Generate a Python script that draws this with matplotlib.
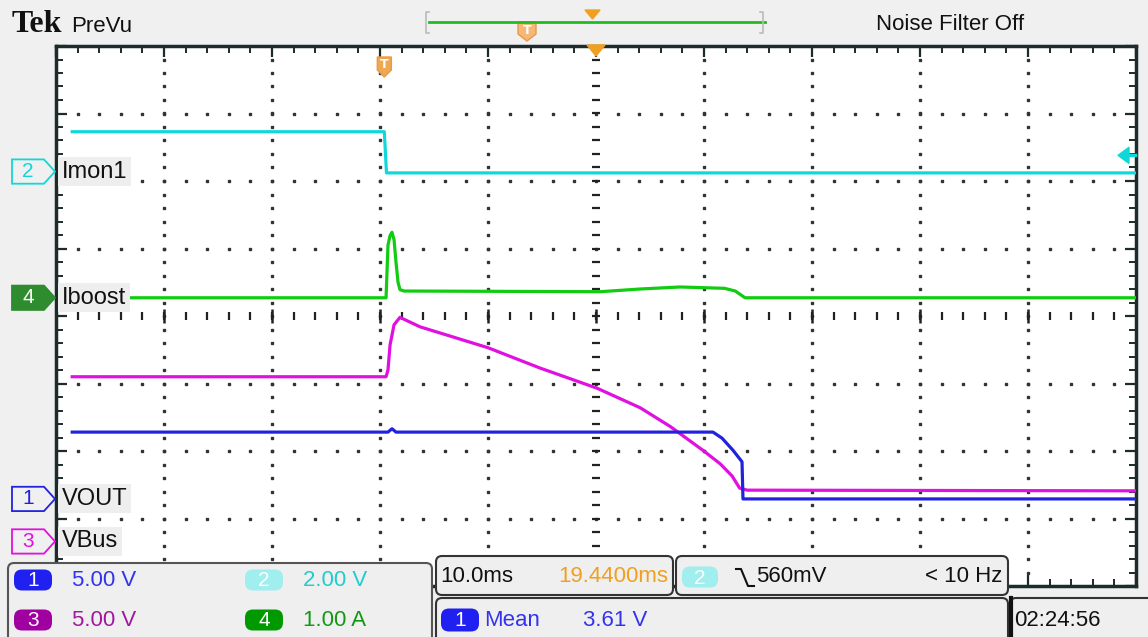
import numpy as np
import matplotlib.pyplot as plt
from matplotlib import font_manager
from matplotlib.patches import Polygon, FancyBboxPatch
from matplotlib.transforms import blended_transform_factory

# traces, in graticule divisions
# x: 0..10 div (10.0 ms/div), y: -4..4 div from the centre line
imon_x = [0.15, 3.04, 3.06, 10.0]
imon_y = [2.73, 2.73, 2.12, 2.12]

iboost_x = [0.15, 3.056, 3.074, 3.093, 3.111, 3.13, 3.148, 3.167, 3.185, 3.222,
            5.04, 5.41, 5.78, 6.19, 6.29, 6.38, 10.0]
iboost_y = [0.27, 0.27, 1.05, 1.19, 1.24, 1.13, 0.80, 0.50, 0.39, 0.37,
            0.36, 0.40, 0.43, 0.41, 0.37, 0.27, 0.27]

vbus_x = [0.15, 3.056, 3.074, 3.093, 3.13, 3.185, 3.37, 4.0, 4.48, 5.01, 5.41,
          5.69, 5.99, 6.15, 6.26, 6.33, 6.40, 10.0]
vbus_y = [-0.90, -0.90, -0.80, -0.43, -0.13, -0.02, -0.16, -0.47, -0.77, -1.07,
          -1.36, -1.64, -1.99, -2.19, -2.37, -2.55, -2.58, -2.59]

vout_x = [0.15, 3.074, 3.111, 3.148, 6.083, 6.167, 6.269, 6.352, 6.361, 10.0]
vout_y = [-1.72, -1.72, -1.67, -1.72, -1.72, -1.81, -1.99, -2.16, -2.71, -2.71]

# channel settings
ch_num = ['1', '2', '3', '4']
ch_name = ['VOUT', 'Imon1', 'VBus', 'Iboost']
ch_scale = ['5.00 V', '2.00 V', '5.00 V', '1.00 A']
ch_ground = [-2.71, 2.14, -3.34, 0.27]
ch_trace = ['#2222DD', '#11D8D8', '#E010E0', '#11CC11']
ch_text = ['#3333EE', '#22CCCC', '#A018A0', '#129912']
ch_pill = ['#2020F0', '#A0EEEE', '#A000A0', '#009A00']

timebase = '10.0ms'
trig_delay = '19.4400ms'
trig_level = '560mV'
trig_freq = '< 10 Hz'
meas_value = '3.61 V'
clock = '02:24:56'
trig_pos = 3.04
cyan_trig = 2.38

names = {f.name for f in font_manager.fontManager.ttflist}
narrow = 'Liberation Sans Narrow' if 'Liberation Sans Narrow' in names else 'Liberation Sans'
serif = 'Liberation Serif' if 'Liberation Serif' in names else 'DejaVu Serif'

W, H = 1148, 637
fig = plt.figure(figsize=(W / 100, H / 100), dpi=100, facecolor='#F0F0F0')
ax = fig.add_axes([56 / W, (H - 586) / H, 1080 / W, 540 / H])
ax.set_facecolor('white')
ax.set_xlim(0, 10)
ax.set_ylim(-4, 4)

dark = '#1E2B2B'
for s in ax.spines.values():
    s.set_color(dark)
    s.set_linewidth(2.5)
ax.set_xticks(np.arange(0, 10.01, 1))
ax.set_xticks(np.arange(0, 10.01, 0.2), minor=True)
ax.set_yticks(np.arange(-4, 4.01, 1))
ax.set_yticks(np.arange(-4, 4.01, 0.2), minor=True)
ax.tick_params(which='both', direction='in', top=True, right=True, color=dark,
               labelbottom=False, labelleft=False)
ax.tick_params(which='major', length=8, width=1.6)
ax.tick_params(which='minor', length=5, width=1.4)

# dotted graticule
xm = np.arange(0.2, 9.9, 0.2)
ym = np.arange(-3.8, 3.9, 0.2)
for gx in [1, 2, 3, 4, 6, 7, 8, 9]:
    ax.plot(np.full(len(ym), gx), ym, ls='none', marker='s', ms=1.5, color='#333333')
for gy in [-3, -2, -1, 1, 2, 3]:
    ax.plot(xm, np.full(len(xm), gy), ls='none', marker='s', ms=1.5, color='#333333')
# centre cross with tick dashes
ax.plot(xm, np.zeros(len(xm)), ls='none', marker='|', ms=6, mew=1.6, color='#222222')
ax.plot(np.arange(1, 10), np.zeros(9), ls='none', marker='|', ms=10, mew=1.8, color='#222222')
ax.plot(np.full(len(ym), 5), ym, ls='none', marker='_', ms=6, mew=1.6, color='#222222')

# traces
ax.plot(imon_x, imon_y, color=ch_trace[1], lw=2.3, zorder=4)
ax.plot(iboost_x, iboost_y, color=ch_trace[3], lw=2.3, zorder=4)
ax.plot(vbus_x, vbus_y, color=ch_trace[2], lw=2.3, zorder=4)
ax.plot(vout_x, vout_y, color=ch_trace[0], lw=2.3, zorder=5)

# overlay in screen pixels for the scope furniture
ov = fig.add_axes([0, 0, 1, 1])
ov.set_xlim(0, W)
ov.set_ylim(H, 0)
ov.axis('off')
ov.patch.set_alpha(0)
ov.set_zorder(5)
mix = blended_transform_factory(ov.transData, ax.transData)
mix_x = blended_transform_factory(ax.transData, ov.transData)

# header
ov.text(12, 25, 'Tek', family=serif, weight='bold', size=23, va='center', color='#111111')
ov.text(71, 27, 'PreVu', family=narrow, size=16, va='center', color='#111111')
ov.plot([429, 765], [22, 22], color='#22BB22', lw=2)
ov.plot([429, 426, 426, 429], [12, 12, 33, 33], color='#BBBBBB', lw=1.2)
ov.plot([760, 763, 763, 760], [12, 12, 33, 33], color='#BBBBBB', lw=1.2)
ov.add_patch(Polygon([(585, 10), (600, 10), (592.5, 19)], color='#F0A020'))
ov.add_patch(Polygon([(518, 22), (536, 22), (536, 34), (527, 41), (518, 34)],
                     facecolor='#F5B879', edgecolor='#E89A4A', lw=1))
ov.text(527, 30, 'T', color='white', size=9, weight='bold', ha='center', va='center')
ov.text(876, 25, 'Noise Filter Off', family=narrow, size=16, va='center', color='#111111')

# expansion point and trigger position markers on the graticule
ov.add_patch(Polygon([(587, 45), (605, 45), (596, 56)], color='#F0A020'))
ov.add_patch(Polygon([(trig_pos - 0.065, 57), (trig_pos + 0.065, 57), (trig_pos + 0.065, 70),
                      (trig_pos, 77), (trig_pos - 0.065, 70)], transform=mix_x,
                     facecolor='#F0A850', edgecolor='#E89A4A', lw=1))
ov.text(trig_pos, 65, 'T', transform=mix_x, color='white', size=9, weight='bold',
        ha='center', va='center')

# cyan trigger level arrow on the right edge
ov.add_patch(Polygon([(1118, cyan_trig), (1129, cyan_trig + 0.12), (1129, cyan_trig - 0.12)],
                     transform=mix, color=ch_trace[1]))
ov.plot([1126, 1135], [cyan_trig, cyan_trig], transform=mix, color=ch_trace[1], lw=2.5)

# channel ground markers and labels
for i in [1, 3, 0, 2]:
    g = ch_ground[i]
    h = 0.18
    filled = ch_num[i] == '4'
    verts = [(12, g + h), (44, g + h), (55, g), (44, g - h), (12, g - h)]
    ov.add_patch(Polygon(verts, transform=mix, closed=True,
                         facecolor='#2E8B2E' if filled else '#F0F0F0',
                         edgecolor='#2E8B2E' if filled else ch_trace[i], lw=1.3))
    ov.text(28, g, ch_num[i], transform=mix, ha='center', va='center', family=narrow,
            size=15, color='white' if filled else ch_trace[i])
    ov.text(62, g, ch_name[i], transform=mix, ha='left', va='center', family=narrow,
            size=17, color='#111111',
            bbox=dict(boxstyle='square,pad=0.15', fc='#EEEEEE', ec='none'))


def box(x0, y0, x1, y1, ec='#333333', lw=1.5):
    ov.add_patch(FancyBboxPatch((x0, y0), x1 - x0, y1 - y0,
                                boxstyle='round,pad=0,rounding_size=6',
                                fc='#EFEFEF', ec=ec, lw=lw))


def pill(xc, yc, txt, fc, w=38, h=21):
    ov.add_patch(FancyBboxPatch((xc - w / 2, yc - h / 2), w, h,
                                boxstyle='round,pad=0,rounding_size=8', fc=fc, ec='none'))
    ov.text(xc, yc + 1, txt, ha='center', va='center', family=narrow, size=15, color='white')


# bottom status panels
box(8, 563, 432, 645, ec='#555555')
box(436, 556, 673, 595)
box(676, 556, 1008, 595)
box(436, 598, 1008, 645)
box(1010, 598, 1160, 645)
ov.plot([1011, 1011], [598, 637], color='#111111', lw=3)

rows = [(0, 33, 580), (1, 264, 580), (2, 33, 620), (3, 264, 620)]
for i, xc, yc in rows:
    pill(xc, yc, ch_num[i], ch_pill[i])
    ov.text(xc + 39, yc + 1, ch_scale[i], va='center', family=narrow, size=16, color=ch_text[i])

ov.text(440, 577, timebase, va='center', family=narrow, size=16, color='#111111')
ov.text(668, 577, trig_delay, va='center', ha='right', family=narrow, size=16, color='#F0A020')
pill(700, 577, '2', ch_pill[1], w=36)
ov.plot([736, 741, 748, 754], [569, 569, 586, 586], color='#111111', lw=1.5)
ov.text(756, 577, trig_level, va='center', family=narrow, size=16, color='#111111')
ov.text(1002, 577, trig_freq, va='center', ha='right', family=narrow, size=16, color='#111111')

pill(460, 620, '1', ch_pill[0], w=38, h=23)
ov.text(484, 620, 'Mean', va='center', family=narrow, size=16, color=ch_text[0])
ov.text(583, 620, meas_value, va='center', family=narrow, size=16, color=ch_text[0])
ov.text(1014, 621, clock, va='center', family=narrow, size=16, color='#111111')

fig.savefig('out.png', dpi=100, facecolor=fig.get_facecolor())
